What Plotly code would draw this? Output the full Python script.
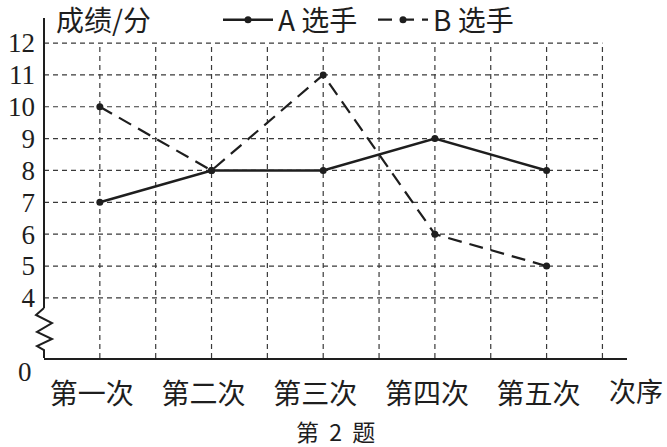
import plotly.graph_objects as go

categories = ["第一次", "第二次", "第三次", "第四次", "第五次"]
a_scores = [7, 8, 8, 9, 8]
b_scores = [10, 8, 11, 6, 5]
y_ticks = [4, 5, 6, 7, 8, 9, 10, 11, 12]

W, H = 667, 447
L, R, T, B = 44, 40, 18, 89
X0, X1 = 0.5, 5.72
Y0, Y1 = 2.113, 12.786

xs = list(range(1, len(categories) + 1))

def px(x):
    return (x - L) / (W - L - R)

def py(y):
    return (H - B - y) / (H - T - B)

CJK = "Noto Sans CJK SC"
SERIF = "Liberation Serif"
INK = "#1e1e1e"

fig = go.Figure()
fig.add_trace(go.Scatter(x=xs, y=a_scores, mode="lines+markers", name="A 选手",
                         line=dict(color=INK, width=2.5),
                         marker=dict(color=INK, size=7)))
fig.add_trace(go.Scatter(x=xs, y=b_scores, mode="lines+markers", name="B 选手",
                         line=dict(color=INK, width=2.2, dash="14px,8px"),
                         marker=dict(color=INK, size=7)))

shapes = []
grid = dict(color="#3a3a3a", width=1.2, dash="5px,4px")
for v in y_ticks:
    shapes.append(dict(type="line", xref="x", yref="y", x0=X0, x1=5.5, y0=v, y1=v, line=grid, layer="below"))
for k in range(2, 12):
    xv = k * 0.5
    shapes.append(dict(type="line", xref="x", yref="y", x0=xv, x1=xv, y0=Y0, y1=12, line=grid, layer="below"))

# y axis with break
axis_line = dict(color=INK, width=2)
shapes.append(dict(type="line", xref="paper", yref="paper", x0=0, x1=0, y0=py(308), y1=1.0, line=axis_line))
zz = [(44, 308), (36, 315), (52, 323), (37, 332), (52, 339), (37, 346), (44, 350), (44, 358)]
path = "M " + " L ".join(f"{px(a):.4f},{py(b):.4f}" for a, b in zz)
shapes.append(dict(type="path", xref="paper", yref="paper", path=path, line=axis_line))

annotations = [
    dict(text="成绩/分", xref="paper", yref="paper", x=px(54), y=py(19), xanchor="left", yanchor="middle",
         showarrow=False, font=dict(family=CJK, size=28, color=INK)),
    dict(text="0", xref="paper", yref="paper", x=px(25), y=py(372), xanchor="center", yanchor="middle",
         showarrow=False, font=dict(family=SERIF, size=27, color=INK)),
    dict(text="次序", xref="paper", yref="paper", x=px(636), y=py(390), xanchor="center", yanchor="middle",
         showarrow=False, font=dict(family=CJK, size=27, color=INK)),
    dict(text="第\u00a0\u00a02\u00a0\u00a0题", xref="paper", yref="paper", x=px(335), y=py(431),
         xanchor="center", yanchor="middle",
         showarrow=False, font=dict(family=CJK, size=23, color=INK)),
]

fig.update_layout(
    width=W, height=H,
    margin=dict(l=L, r=R, t=T, b=B, autoexpand=False),
    paper_bgcolor="white", plot_bgcolor="white",
    shapes=shapes, annotations=annotations,
    showlegend=True,
    legend=dict(orientation="h", x=px(218), y=py(20), xanchor="left", yanchor="middle",
                font=dict(family=CJK, size=28, color=INK), bgcolor="rgba(0,0,0,0)",
                itemwidth=50, tracegroupgap=0, entrywidth=90),
    xaxis=dict(range=[X0, X1], tickvals=xs, ticktext=categories, showgrid=False, zeroline=False,
               showline=True, linecolor=INK, linewidth=2, ticks="",
               tickfont=dict(family=CJK, size=28, color=INK), ticklabelstandoff=10,
               ticklabelshift=-8),
    yaxis=dict(range=[Y0, Y1], tickvals=y_ticks, ticktext=[str(v) for v in y_ticks],
               showgrid=False, zeroline=False, showline=False, ticks="",
               tickfont=dict(family=SERIF, size=27, color=INK), ticklabelstandoff=8),
)

fig.write_html("out.html", config={"displayModeBar": False},
               post_script="document.body.style.margin='0';")
